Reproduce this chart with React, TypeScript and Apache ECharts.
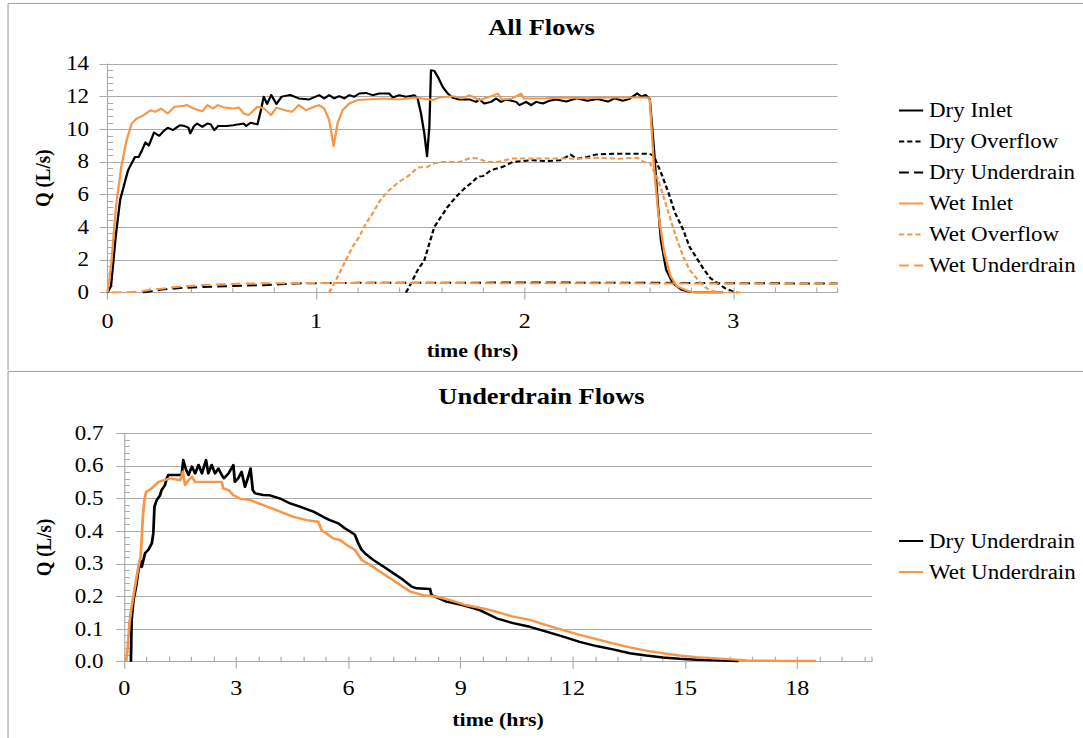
import React, { useEffect, useRef } from 'react';
import * as echarts from 'echarts';

// The reference picture is stretched horizontally; we draw at native width and stretch with CSS.
const PAGE_W = 1083;
const INNER_W = 942;
const SX = PAGE_W / INNER_W;

const FONT = "'Liberation Serif', 'Times New Roman', serif";
const BLACK = '#000000';
const ORANGE = '#F79646';
const GRID_GRAY = '#ababab';
const FRAME_GRAY = '#a3a3a3';

// ---------------- All Flows (top) ----------------
const topTitle = 'All Flows';
const topNames = ['Dry Inlet', 'Dry Overflow', 'Dry Underdrain', 'Wet Inlet', 'Wet Overflow', 'Wet Underdrain'];

const dryInlet: number[][] = [
  [0, 0], [0.017, 0.4], [0.04, 3.5], [0.061, 5.7], [0.08, 6.6], [0.099, 7.5], [0.115, 7.9], [0.132, 8.3], [0.149, 8.3],
  [0.165, 8.7], [0.182, 9.2], [0.198, 9.0], [0.223, 9.8], [0.248, 9.6], [0.27, 9.9], [0.289, 10.1], [0.314, 9.95],
  [0.33, 10.1], [0.347, 10.25], [0.37, 10.2], [0.388, 10.1], [0.397, 9.75], [0.415, 10.2], [0.43, 10.35], [0.455, 10.15],
  [0.479, 10.35], [0.495, 10.3], [0.512, 9.95], [0.53, 10.2], [0.57, 10.2], [0.603, 10.25], [0.625, 10.3], [0.653, 10.35],
  [0.665, 10.2], [0.686, 10.4], [0.719, 10.3], [0.736, 11.2], [0.749, 12.0], [0.765, 11.55], [0.785, 12.1], [0.81, 11.55],
  [0.835, 12.0], [0.876, 12.1], [0.917, 11.89], [0.967, 11.83], [1.015, 12.09], [1.039, 11.89], [1.063, 12.09], [1.087, 11.89],
  [1.111, 12.03], [1.135, 11.89], [1.159, 12.09], [1.183, 11.99], [1.207, 12.19], [1.239, 12.23], [1.271, 12.09],
  [1.303, 12.19], [1.351, 12.19], [1.367, 11.95], [1.399, 12.09], [1.431, 11.99], [1.471, 12.09], [1.487, 11.89],
  [1.503, 10.97], [1.519, 9.74], [1.532, 8.35], [1.543, 10.15], [1.551, 13.62], [1.567, 13.58], [1.588, 13.11],
  [1.607, 12.6], [1.631, 12.19], [1.655, 11.93], [1.687, 11.83], [1.735, 11.83], [1.767, 11.68], [1.783, 11.83],
  [1.807, 11.58], [1.839, 11.68], [1.863, 11.89], [1.887, 11.68], [1.911, 11.83], [1.959, 11.68], [1.975, 11.48],
  [2.007, 11.68], [2.031, 11.48], [2.055, 11.68], [2.087, 11.58], [2.119, 11.75], [2.151, 11.83], [2.2, 11.7],
  [2.25, 11.9], [2.3, 11.75], [2.35, 11.85], [2.4, 11.7], [2.43, 11.9], [2.47, 11.75], [2.5, 11.85], [2.54, 12.2],
  [2.56, 12.0], [2.58, 12.1], [2.6, 11.85], [2.62, 8.8], [2.637, 5.7], [2.653, 3.2], [2.678, 1.4], [2.71, 0.57],
  [2.753, 0.16], [2.79, 0.04], [2.82, 0], [2.95, 0],
];

const dryOverflow: number[][] = [
  [1.431, 0], [1.455, 0.55], [1.487, 1.37], [1.519, 1.98], [1.543, 3.0], [1.567, 4.02], [1.599, 4.64], [1.631, 5.25],
  [1.671, 5.86], [1.711, 6.37], [1.751, 6.78], [1.775, 7.09], [1.8, 7.13], [1.839, 7.5], [1.895, 7.7], [1.943, 8.0],
  [2.039, 8.11], [2.1, 8.05], [2.17, 8.1], [2.22, 8.45], [2.25, 8.2], [2.3, 8.3], [2.34, 8.45], [2.42, 8.5], [2.5, 8.5],
  [2.6, 8.5], [2.62, 8.35], [2.655, 7.3], [2.69, 6.1], [2.72, 4.9], [2.76, 3.85], [2.79, 2.8], [2.83, 2.0], [2.86, 1.4],
  [2.89, 0.88], [2.93, 0.53], [2.96, 0.27], [3.0, 0.05], [3.02, 0],
];

const dryUnderdrainTop: number[][] = [
  [0.17, 0], [0.22, 0.1], [0.26, 0.18], [0.35, 0.27], [0.45, 0.33], [0.6, 0.4], [0.75, 0.45], [0.85, 0.52],
  [0.95, 0.57], [1.2, 0.59], [1.5, 0.6], [1.8, 0.6], [2.0, 0.62], [2.3, 0.6], [2.6, 0.6], [2.8, 0.58], [3.0, 0.57],
  [3.2, 0.56], [3.5, 0.55],
];

const wetInlet: number[][] = [
  [0, 0], [0.017, 1.6], [0.041, 5.3], [0.066, 7.7], [0.091, 9.3], [0.116, 10.35], [0.14, 10.66], [0.174, 10.87],
  [0.207, 11.17], [0.23, 11.07], [0.256, 11.27], [0.289, 10.97], [0.322, 11.38], [0.364, 11.42], [0.38, 11.5],
  [0.413, 11.27], [0.455, 11.1], [0.479, 11.48], [0.505, 11.27], [0.529, 11.48], [0.56, 11.33], [0.603, 11.27],
  [0.63, 11.33], [0.653, 10.97], [0.677, 10.87], [0.702, 11.17], [0.719, 11.38], [0.752, 11.27], [0.785, 10.87],
  [0.81, 11.33], [0.851, 11.17], [0.884, 11.07], [0.917, 11.48], [0.951, 11.17], [0.991, 11.38], [1.015, 11.48],
  [1.039, 11.27], [1.063, 10.56], [1.084, 8.97], [1.103, 10.36], [1.127, 11.17], [1.159, 11.58], [1.199, 11.79],
  [1.239, 11.83], [1.319, 11.89], [1.399, 11.83], [1.479, 11.95], [1.559, 11.79], [1.59, 11.95], [1.655, 12.03],
  [1.7, 11.9], [1.735, 12.09], [1.783, 11.79], [1.831, 11.99], [1.871, 12.19], [1.89, 11.83], [1.94, 11.89],
  [1.983, 12.19], [1.995, 11.89], [2.1, 11.9], [2.2, 11.95], [2.3, 11.9], [2.4, 11.95], [2.5, 11.95], [2.59, 11.95],
  [2.6, 11.8], [2.62, 7.7], [2.64, 4.9], [2.67, 2.4], [2.7, 1.0], [2.73, 0.37], [2.79, 0.06], [2.82, 0], [2.95, 0],
];

const wetOverflow: number[][] = [
  [1.063, 0], [1.087, 0.55], [1.111, 1.16], [1.143, 1.98], [1.175, 2.8], [1.207, 3.41], [1.239, 4.23], [1.271, 4.84],
  [1.303, 5.56], [1.335, 6.07], [1.367, 6.47], [1.399, 6.78], [1.447, 7.19], [1.487, 7.66], [1.535, 7.7], [1.559, 7.9],
  [1.607, 8.0], [1.687, 8.0], [1.743, 8.25], [1.78, 8.21], [1.815, 8.0], [1.87, 8.0], [1.943, 8.21], [2.167, 8.21],
  [2.25, 8.2], [2.35, 8.25], [2.45, 8.2], [2.54, 8.25], [2.57, 8.0], [2.6, 7.95], [2.64, 6.9], [2.67, 5.7], [2.7, 4.45],
  [2.73, 3.25], [2.76, 2.2], [2.79, 1.4], [2.83, 0.78], [2.86, 0.37], [2.89, 0.12], [2.94, 0], [3.05, 0],
];

const wetUnderdrainTop: number[][] = [
  [0.02, 0], [0.1, 0.02], [0.15, 0.06], [0.22, 0.18], [0.34, 0.35], [0.47, 0.47], [0.64, 0.55], [0.8, 0.57],
  [1.0, 0.58], [1.5, 0.58], [2.0, 0.57], [2.5, 0.56], [3.0, 0.55], [3.5, 0.53],
];

// ---------------- Underdrain Flows (bottom) ----------------
const bottomTitle = 'Underdrain Flows';
const bottomNames = ['Dry Underdrain', 'Wet Underdrain'];

const dryUnderdrain: number[][] = [
  [0.18, 0], [0.2, 0.128], [0.25, 0.19], [0.32, 0.23], [0.38, 0.28], [0.43, 0.31], [0.47, 0.29], [0.56, 0.333],
  [0.65, 0.343], [0.74, 0.363], [0.78, 0.394], [0.81, 0.475], [0.87, 0.495], [0.96, 0.51], [1.0, 0.526], [1.09, 0.541],
  [1.14, 0.562], [1.18, 0.572], [1.54, 0.572], [1.58, 0.618], [1.65, 0.59], [1.72, 0.572], [1.81, 0.598], [1.9, 0.577],
  [1.99, 0.603], [2.08, 0.577], [2.19, 0.618], [2.25, 0.577], [2.34, 0.603], [2.43, 0.577], [2.52, 0.592], [2.61, 0.572],
  [2.67, 0.562], [2.79, 0.577], [2.92, 0.603], [2.96, 0.551], [3.05, 0.562], [3.14, 0.582], [3.23, 0.536], [3.32, 0.567],
  [3.38, 0.592], [3.44, 0.526], [3.5, 0.516], [3.72, 0.511], [3.9, 0.51], [4.17, 0.5], [4.44, 0.485], [4.7, 0.475],
  [5.06, 0.46], [5.32, 0.444], [5.5, 0.434], [5.73, 0.424], [5.9, 0.409], [6.04, 0.399], [6.17, 0.389], [6.26, 0.363],
  [6.35, 0.343], [6.48, 0.328], [6.66, 0.312], [6.93, 0.292], [7.2, 0.271], [7.46, 0.251], [7.69, 0.23], [7.82, 0.225],
  [8.18, 0.223], [8.22, 0.204], [8.62, 0.184], [9.07, 0.173], [9.51, 0.158], [9.96, 0.133], [10.4, 0.118],
  [10.85, 0.107], [11.29, 0.092], [11.74, 0.077], [12.18, 0.061], [12.63, 0.048], [13.07, 0.038], [13.52, 0.026],
  [13.96, 0.019], [14.41, 0.013], [14.85, 0.009], [15.3, 0.006], [15.74, 0.004], [16.43, 0.002],
];

const wetUnderdrain: number[][] = [
  [0.05, 0], [0.09, 0.036], [0.14, 0.118], [0.2, 0.169], [0.29, 0.23], [0.35, 0.271], [0.4, 0.302], [0.44, 0.322],
  [0.47, 0.378], [0.5, 0.444], [0.54, 0.495], [0.59, 0.521], [0.68, 0.526], [0.78, 0.536], [0.92, 0.551], [1.05, 0.556],
  [1.23, 0.562], [1.5, 0.556], [1.57, 0.582], [1.63, 0.541], [1.72, 0.556], [1.81, 0.567], [1.9, 0.551], [2.61, 0.551],
  [2.65, 0.531], [2.79, 0.526], [2.92, 0.51], [3.1, 0.5], [3.37, 0.495], [3.72, 0.48], [4.17, 0.46], [4.53, 0.444],
  [4.88, 0.434], [5.19, 0.429], [5.28, 0.403], [5.41, 0.393], [5.59, 0.378], [5.77, 0.373], [5.95, 0.358],
  [6.17, 0.343], [6.35, 0.312], [6.57, 0.297], [6.84, 0.276], [7.11, 0.256], [7.38, 0.235], [7.65, 0.215], [8.0, 0.204],
  [8.36, 0.199], [8.72, 0.189], [9.16, 0.173], [9.6, 0.163], [9.96, 0.153], [10.4, 0.138], [10.85, 0.128],
  [11.29, 0.112], [11.74, 0.097], [12.18, 0.082], [12.63, 0.069], [13.07, 0.056], [13.52, 0.044], [13.96, 0.034],
  [14.41, 0.026], [14.85, 0.019], [15.3, 0.014], [15.74, 0.011], [16.15, 0.008], [16.66, 0.004], [17.59, 0.002],
  [18.5, 0.002],
];

const axisNameX = 'time (hrs)';
const axisNameY = 'Q (L/s)';

type AxisCfg = {
  xMax: number; xMajor: number; xMinor: number;
  yMax: number; yMajor: number; yMinor: number; yDigits: number;
  yNameGap: number; yLabelMargin: number; xLabelMargin: number; xNameGap: number;
};

function buildAxes(c: AxisCfg) {
  const tickStyle = { color: GRID_GRAY, width: 1 };
  const xAxis = [
    {
      type: 'value', min: 0, max: c.xMax, interval: c.xMajor,
      axisLine: { show: true, lineStyle: { color: GRID_GRAY, width: 1 } },
      axisTick: { show: true, inside: false, length: 7, lineStyle: tickStyle },
      axisLabel: { show: true, showMaxLabel: false, margin: c.xLabelMargin, fontSize: 21, fontFamily: FONT, color: BLACK },
      splitLine: { show: false },
      name: axisNameX, nameLocation: 'middle', nameGap: c.xNameGap,
      nameTextStyle: { fontFamily: FONT, fontSize: 19, fontWeight: 'bold', color: BLACK },
    },
    {
      type: 'value', min: 0, max: c.xMax, interval: c.xMinor, position: 'bottom',
      axisLine: { show: false },
      axisTick: { show: true, inside: true, length: 5, lineStyle: tickStyle },
      axisLabel: { show: false }, splitLine: { show: false },
    },
  ];
  const yAxis = [
    {
      type: 'value', min: 0, max: c.yMax, interval: c.yMajor,
      axisLine: { show: true, lineStyle: { color: GRID_GRAY, width: 1 } },
      axisTick: { show: true, inside: false, length: 7, lineStyle: tickStyle },
      axisLabel: {
        show: true, margin: c.yLabelMargin, fontSize: 20, fontFamily: FONT, color: BLACK,
        formatter: (v: number) => v.toFixed(c.yDigits),
      },
      splitLine: { show: true, lineStyle: { color: GRID_GRAY, width: 1 } },
      name: axisNameY, nameLocation: 'middle', nameGap: c.yNameGap,
      nameTextStyle: { fontFamily: FONT, fontSize: 19, fontWeight: 'bold', color: BLACK },
    },
    {
      type: 'value', min: 0, max: c.yMax, interval: c.yMinor, position: 'left',
      axisLine: { show: false },
      axisTick: { show: true, inside: true, length: 5, lineStyle: tickStyle },
      axisLabel: { show: false }, splitLine: { show: false },
    },
  ];
  return { xAxis, yAxis };
}

function lineSeries(name: string, data: number[][], color: string, width: number, dash: any) {
  return {
    type: 'line', name, data, xAxisIndex: 0, yAxisIndex: 0,
    showSymbol: false, symbol: 'none', smooth: false, silent: true,
    lineStyle: { color, width, type: dash, cap: 'butt', join: 'round' },
    itemStyle: { color },
  };
}

function frame(topY: number, height: number) {
  return [
    { type: 'line', silent: true, shape: { x1: 7, y1: topY, x2: INNER_W, y2: topY }, style: { stroke: FRAME_GRAY, lineWidth: 1.2 } },
    { type: 'line', silent: true, shape: { x1: 7, y1: topY, x2: 7, y2: height }, style: { stroke: FRAME_GRAY, lineWidth: 1 } },
  ];
}

function legendCfg(names: string[], top: number) {
  return {
    show: true, orient: 'vertical', left: 781, top, padding: 0, itemWidth: 21, itemHeight: 14, itemGap: 10,
    selectedMode: false, data: names,
    itemStyle: { opacity: 0, color: 'transparent', borderWidth: 0 },
    textStyle: { fontFamily: FONT, fontSize: 20, color: BLACK, lineHeight: 21 },
  };
}

const SHORT_DASH = [4.5, 2.6];
const LONG_DASH = [8.5, 4.5];

function topOption() {
  const axes = buildAxes({
    xMax: 3.5, xMajor: 1, xMinor: 0.2, yMax: 14, yMajor: 2, yMinor: 0.4, yDigits: 0,
    yNameGap: 47, yLabelMargin: 16, xLabelMargin: 18, xNameGap: 48,
  });
  return {
    animation: false,
    title: {
      text: topTitle, left: 'center', top: 16, padding: [0, 0, 0, 8],
      textStyle: { fontFamily: FONT, fontSize: 23, fontWeight: 'bold', color: BLACK },
    },
    grid: { left: 93.5, top: 64, width: 635, height: 228.5, containLabel: false },
    ...axes,
    legend: legendCfg(topNames, 100),
    graphic: frame(3.5, 370),
    series: [
      lineSeries('Dry Inlet', dryInlet, BLACK, 2, 'solid'),
      lineSeries('Dry Overflow', dryOverflow, BLACK, 2, SHORT_DASH),
      lineSeries('Dry Underdrain', dryUnderdrainTop, BLACK, 2, LONG_DASH),
      lineSeries('Wet Inlet', wetInlet, ORANGE, 2, 'solid'),
      lineSeries('Wet Overflow', wetOverflow, ORANGE, 2, SHORT_DASH),
      lineSeries('Wet Underdrain', wetUnderdrainTop, ORANGE, 2, LONG_DASH),
    ],
  };
}

function bottomOption() {
  const axes = buildAxes({
    xMax: 20, xMajor: 3, xMinor: 0.6, yMax: 0.7, yMajor: 0.1, yMinor: 0.02, yDigits: 1,
    yNameGap: 61, yLabelMargin: 18, xLabelMargin: 16, xNameGap: 48,
  });
  return {
    animation: false,
    title: {
      text: bottomTitle, left: 'center', top: 15, padding: [0, 0, 0, 8],
      textStyle: { fontFamily: FONT, fontSize: 23, fontWeight: 'bold', color: BLACK },
    },
    grid: { left: 108, top: 63.3, width: 650.5, height: 228.4, containLabel: false },
    ...axes,
    legend: legendCfg(bottomNames, 160.5),
    graphic: frame(1.5, 368),
    series: [
      lineSeries('Dry Underdrain', dryUnderdrain, BLACK, 2.4, 'solid'),
      lineSeries('Wet Underdrain', wetUnderdrain, ORANGE, 2.4, 'solid'),
    ],
  };
}

function Chart({ height, makeOption }: { height: number; makeOption: () => any }) {
  const ref = useRef<HTMLDivElement>(null);
  useEffect(() => {
    if (!ref.current) return;
    const chart = echarts.init(ref.current, undefined, { renderer: 'svg' });
    chart.setOption(makeOption());
    return () => chart.dispose();
  }, [makeOption]);
  return <div ref={ref} style={{ width: INNER_W, height }} />;
}

export default function App() {
  return (
    <div
      style={{
        position: 'absolute', left: 0, top: 0, width: INNER_W, height: 738,
        transform: `scaleX(${SX})`, transformOrigin: '0 0', background: '#ffffff', overflow: 'hidden',
      }}
    >
      <Chart height={370} makeOption={topOption} />
      <Chart height={368} makeOption={bottomOption} />
    </div>
  );
}
